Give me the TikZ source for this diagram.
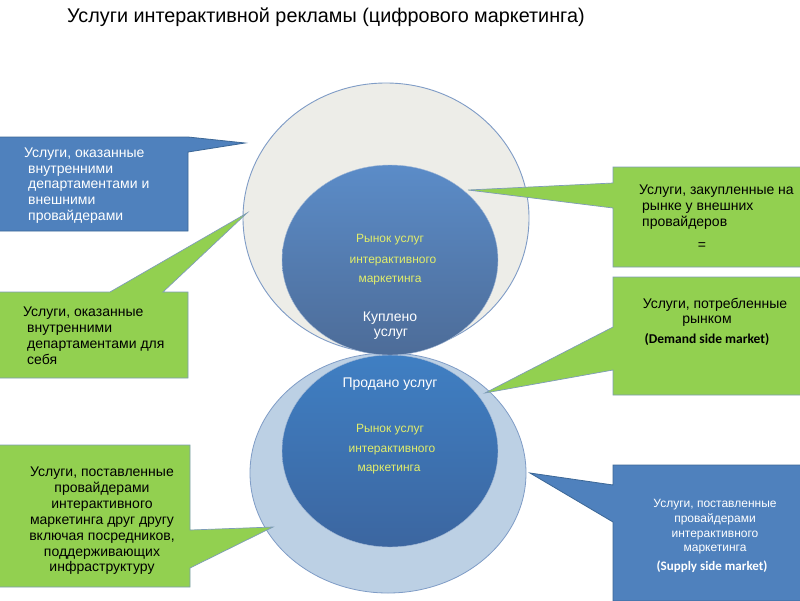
\documentclass[tikz,border=0pt]{standalone}
\usepackage{fontspec}
\setmainfont{Liberation Sans}
\newfontfamily\calfont{Carlito}
\usetikzlibrary{shapes.geometric}
\definecolor{bluebox}{HTML}{4F81BD}
\definecolor{blueedge}{HTML}{3C6796}
\definecolor{greenbox}{HTML}{92D050}
\definecolor{greenedge}{HTML}{7E9CB8}
\definecolor{ringgray}{HTML}{EDEDE8}
\definecolor{ringedge}{HTML}{7F9CC6}
\definecolor{ringblue}{HTML}{BCD0E4}
\definecolor{ylw}{HTML}{E2EE6A}
\definecolor{topA}{HTML}{5B8CC8}
\definecolor{topB}{HTML}{4D6C98}
\definecolor{botA}{HTML}{3F7FC3}
\definecolor{botB}{HTML}{3C66A0}
\begin{document}
\begin{tikzpicture}[x=1pt,y=-1pt,
  bluecall/.style={fill=bluebox, draw=blueedge, line width=0.8pt},
  greencall/.style={fill=greenbox, draw=greenedge, line width=0.7pt},
  ring/.style={ellipse, inner sep=0pt},
  boxtext/.style={font=\fontsize{14}{15.9}\selectfont, inner sep=0pt},
  smalltext/.style={font=\fontsize{12}{14.7}\selectfont, inner sep=0pt},
  yeltext/.style={font=\fontsize{12}{13}\selectfont, text=ylw, inner sep=0pt, anchor=base},
  whitetext/.style={font=\fontsize{14}{16}\selectfont, text=white, inner sep=0pt, anchor=base},
  engtext/.style={font=\calfont\bfseries\fontsize{13.5}{14}\selectfont, inner sep=0pt, anchor=base}
]
\useasboundingbox (0,0) rectangle (800,600);
\fill[white] (0,0) rectangle (800,600);

% title
\node[font=\fontsize{19.8}{22}\selectfont, inner sep=0pt, anchor=base west] (title) at (67,22)
  {Услуги интерактивной рекламы (цифрового маркетинга)};

% circles
\node[ring, minimum width=276pt, minimum height=240pt, fill=ringblue, draw=ringedge, line width=0.8pt] (botouter) at (388,473) {};
\node[ring, minimum width=216pt, minimum height=192pt, top color=botA, bottom color=botB, draw=ringedge!70, line width=0.4pt] (botinner) at (390,451) {};
\node[ring, minimum width=286pt, minimum height=270pt, fill=ringgray, draw=ringedge, line width=0.9pt] (topouter) at (386,218) {};
\node[ring, minimum width=216pt, minimum height=190pt, top color=topA, bottom color=topB, draw=ringedge!70, line width=0.4pt] (topinner) at (390,260) {};

% pointer tips
\coordinate (p1) at (245,143);
\coordinate (p2) at (468,190);
\coordinate (p3) at (247,213);
\coordinate (p4) at (485,393);
\coordinate (p5) at (273,527);
\coordinate (p6) at (530,473);

% callouts
\draw[bluecall] (-1,137) -- (188,137) -- (p1) -- (188,152) -- (188,231) -- (-1,231) -- cycle;
\draw[greencall] (613,167) -- (801,167) -- (801,267) -- (613,267) -- (613,208) -- (p2) -- (613,183) -- cycle;
\draw[greencall] (-1,292) -- (110,292) -- (p3) -- (163,292) -- (188,292) -- (188,378) -- (-1,378) -- cycle;
\draw[greencall] (613,277) -- (801,277) -- (801,395) -- (613,395) -- (613,370) -- (p4) -- (613,327) -- cycle;
\draw[greencall] (-1,445) -- (190,445) -- (190,530) -- (p5) -- (190,568) -- (190,587) -- (-1,587) -- cycle;
\draw[bluecall] (613,465) -- (801,465) -- (801,601) -- (613,601) -- (613,522) -- (p6) -- (613,485) -- cycle;

% callout texts
\node[boxtext, text=white, align=left, anchor=north west] (t1) at (24,147.3)
  {Услуги, оказанные\\ \hspace*{4pt}внутренними\\ \hspace*{4pt}департаментами и\\ \hspace*{4pt}внешними\\ \hspace*{4pt}провайдерами};
\node[boxtext, align=left, anchor=north west] (t2) at (639,185)
  {Услуги, закупленные на\\ \hspace*{3pt}рынке у внешних\\ \hspace*{3pt}провайдеров};
\node[boxtext, anchor=base] (t2eq) at (702,249) {=};
\node[boxtext, align=left, anchor=north west] (t3) at (23,307)
  {Услуги, оказанные\\ \hspace*{4pt}внутренними\\ \hspace*{4pt}департаментами для\\ \hspace*{4pt}себя};
\node[boxtext, anchor=base] (t4a) at (715,308) {Услуги, потребленные};
\node[boxtext, anchor=base] (t4b) at (707,323) {рынком};
\node[engtext] (t4c) at (707,343) {(Demand side market)};
\node[boxtext, align=center, anchor=north] (t5) at (102,466.7)
  {Услуги, поставленные\\ провайдерами\\ интерактивного\\ маркетинга друг другу\\ включая посредников,\\ поддерживающих\\ инфраструктуру};
\node[smalltext, text=white, align=center, anchor=north] (t6) at (715,499.4)
  {Услуги, поставленные\\ провайдерами\\ интерактивного\\ маркетинга};
\node[engtext, text=white, font=\calfont\bfseries\fontsize{13}{14}\selectfont] (t6b) at (712,570) {(Supply side market)};

% circle texts
\node[yeltext] (y1) at (390,242.7) {Рынок услуг};
\node[yeltext] (y2) at (393,263) {интерактивного};
\node[yeltext] (y3) at (390,282.7) {маркетинга};
\node[whitetext] (w1) at (390,321) {Куплено};
\node[whitetext] (w2) at (391,336) {услуг};
\node[whitetext] (w3) at (390,387) {Продано услуг};
\node[yeltext] (y4) at (390,432.7) {Рынок услуг};
\node[yeltext] (y5) at (392,452.7) {интерактивного};
\node[yeltext] (y6) at (389,471.7) {маркетинга};
\end{tikzpicture}
\end{document}
